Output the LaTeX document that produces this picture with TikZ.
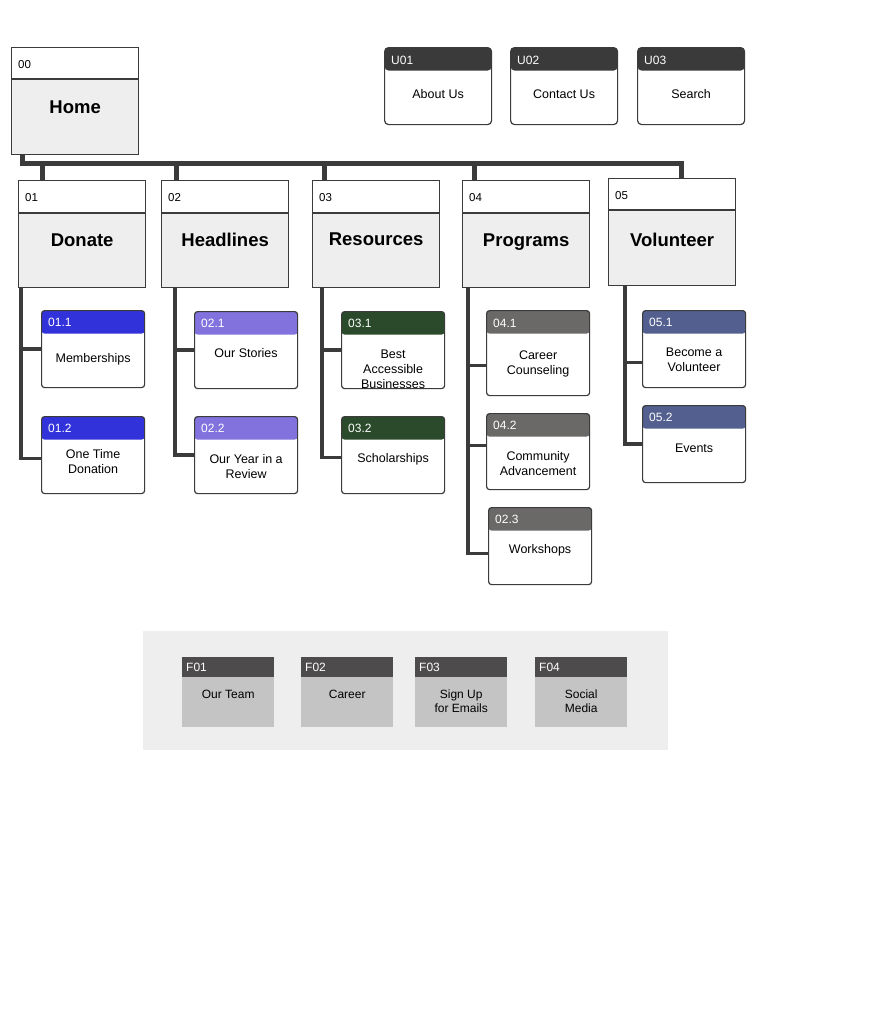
\documentclass[tikz,border=0pt]{standalone}
\usepackage{fontspec}
\setmainfont{Liberation Sans}
\definecolor{LineGray}{HTML}{3B3B3B}
\definecolor{PageGray}{HTML}{EEEEEE}
\definecolor{DonateBlue}{HTML}{3232DA}
\definecolor{NewsPurple}{HTML}{8172DE}
\definecolor{ResGreen}{HTML}{2B4A2B}
\definecolor{ProgGray}{HTML}{6B6868}
\definecolor{VolSlate}{HTML}{53608F}
\definecolor{UtilDark}{HTML}{3A3A3A}
\definecolor{FootHead}{HTML}{4D4B4B}
\definecolor{FootBody}{HTML}{C4C4C4}
\definecolor{PanelGray}{HTML}{EFEEEE}
\usetikzlibrary{positioning}

\tikzset{
  secbox/.style={draw=LineGray, line width=1.3pt, fill=PageGray, minimum width=127pt,
    minimum height=107pt, anchor=north west, inner sep=0pt,
    path picture={\fill[white] (path picture bounding box.north west) rectangle ([yshift=-#1]path picture bounding box.north east);
      \draw[LineGray, line width=2pt] ([yshift=-#1]path picture bounding box.north west) -- ([yshift=-#1]path picture bounding box.north east);}},
  secbox/.default=32pt,
  subbox/.style={draw=LineGray, line width=1.2pt, rounded corners=3pt, fill=white,
    minimum width=103pt, minimum height=77pt, anchor=north west, inner sep=0pt,
    path picture={\fill[#1] (path picture bounding box.north west) rectangle ([yshift=-23pt]path picture bounding box.north east);}},
  utilbox/.style={subbox=UtilDark, rounded corners=4pt, minimum width=107pt},
  footbox/.style={fill=FootBody, minimum width=92pt, minimum height=70pt, anchor=north west, inner sep=0pt,
    path picture={\fill[FootHead] (path picture bounding box.north west) rectangle ([yshift=-20pt]path picture bounding box.north east);}},
  panel/.style={fill=PanelGray, minimum width=525pt, minimum height=119pt, anchor=north west, inner sep=0pt},
  bus/.style={draw=LineGray, line width=5pt},
  trunk/.style={draw=LineGray, line width=3.5pt},
  secid/.style={font=\fontsize{11.5}{14}\selectfont, anchor=west, inner sep=0pt},
  sectitle/.style={font=\fontsize{18.5}{22}\selectfont\bfseries, inner sep=0pt},
  subid/.style={font=\fontsize{12}{14}\selectfont, text=white, anchor=west, inner sep=0pt},
  lbl/.style={font=\fontsize{12.5}{15}\selectfont, align=center, inner sep=0pt},
  footlbl/.style={font=\fontsize{12}{14}\selectfont, align=center, inner sep=0pt}
}

\begin{document}
\begin{tikzpicture}[x=1pt, y=-1pt]
  \useasboundingbox (0,0) rectangle (889,1031);

  % home and top level sections
  \node[secbox=31pt] (home) at (11,47) {};
  \node[secid] at ([xshift=7pt,yshift=-18pt]home.north west) {00};
  \node[sectitle] at ([yshift=-60pt]home.north) {Home};

  \node[secbox] (don) at (18,180) {};
  \node[secbox] (head) at (161,180) {};
  \node[secbox] (res) at (312,180) {};
  \node[secbox] (prog) at (462,180) {};
  \node[secbox=31pt] (vol) at (608,178) {};
  \node[secid] at ([xshift=7pt,yshift=-18pt]don.north west) {01};
  \node[secid] at ([xshift=7pt,yshift=-18pt]head.north west) {02};
  \node[secid] at ([xshift=7pt,yshift=-18pt]res.north west) {03};
  \node[secid] at ([xshift=7pt,yshift=-18pt]prog.north west) {04};
  \node[secid] at ([xshift=7pt,yshift=-18pt]vol.north west) {05};
  \node[sectitle] at ([yshift=-60pt]don.north) {Donate};
  \node[sectitle] at ([yshift=-60pt]head.north) {Headlines};
  \node[sectitle] at ([yshift=-59pt]res.north) {Resources};
  \node[sectitle] at ([yshift=-62pt]prog.north) {Programs};
  \node[sectitle] at ([yshift=-62pt]vol.north) {Volunteer};

  % main bus
  \coordinate (busend) at (681,163);
  \draw[bus] ([xshift=11pt]home.south west) |- (busend) -- (busend |- vol.north);
  \draw[bus] ([xshift=24pt]don.north west) -- ++(0,-17);
  \draw[bus] ([xshift=15pt]head.north west) -- ++(0,-17);
  \draw[bus] ([xshift=12pt]res.north west) -- ++(0,-17);
  \draw[bus] ([xshift=12pt]prog.north west) -- ++(0,-17);

  % utility pages
  \node[utilbox] (u1) at (384,47) {};
  \node[utilbox] (u2) at (510,47) {};
  \node[utilbox] (u3) at (637,47) {};
  \node[subid] at ([xshift=7pt,yshift=-13pt]u1.north west) {U01};
  \node[subid] at ([xshift=7pt,yshift=-13pt]u2.north west) {U02};
  \node[subid] at ([xshift=7pt,yshift=-13pt]u3.north west) {U03};
  \node[lbl] at ([yshift=-47pt]u1.north) {About Us};
  \node[lbl] at ([yshift=-47pt]u2.north) {Contact Us};
  \node[lbl] at ([yshift=-47pt]u3.north) {Search};

  % sub pages
  \node[subbox=DonateBlue] (d11) at (41,310) {};
  \node[subbox=DonateBlue] (d12) at (41,416) {};
  \node[subbox=NewsPurple] (h21) at (194,311) {};
  \node[subbox=NewsPurple] (h22) at (194,416) {};
  \node[subbox=ResGreen] (r31) at (341,311) {};
  \node[subbox=ResGreen] (r32) at (341,416) {};
  \node[subbox=ProgGray, minimum height=85pt] (p41) at (486,310) {};
  \node[subbox=ProgGray, minimum height=76pt] (p42) at (486,413) {};
  \node[subbox=ProgGray] (p43) at (488,507) {};
  \node[subbox=VolSlate] (v51) at (642,310) {};
  \node[subbox=VolSlate] (v52) at (642,405) {};

  \node[subid] at ([xshift=7pt,yshift=-12pt]d11.north west) {01.1};
  \node[subid] at ([xshift=7pt,yshift=-12pt]d12.north west) {01.2};
  \node[subid] at ([xshift=7pt,yshift=-12pt]h21.north west) {02.1};
  \node[subid] at ([xshift=7pt,yshift=-12pt]h22.north west) {02.2};
  \node[subid] at ([xshift=7pt,yshift=-12pt]r31.north west) {03.1};
  \node[subid] at ([xshift=7pt,yshift=-12pt]r32.north west) {03.2};
  \node[subid] at ([xshift=7pt,yshift=-13pt]p41.north west) {04.1};
  \node[subid] at ([xshift=7pt,yshift=-12pt]p42.north west) {04.2};
  \node[subid] at ([xshift=7pt,yshift=-12pt]p43.north west) {02.3};
  \node[subid] at ([xshift=7pt,yshift=-12pt]v51.north west) {05.1};
  \node[subid] at ([xshift=7pt,yshift=-12pt]v52.north west) {05.2};

  \node[lbl] at ([yshift=-49pt]d11.north) {Memberships};
  \node[lbl] at ([yshift=-45.5pt]d12.north) {One Time\\Donation};
  \node[lbl] at ([yshift=-42pt]h21.north) {Our Stories};
  \node[lbl] at ([yshift=-50.5pt]h22.north) {Our Year in a\\Review};
  \begin{scope}
    % text runs past the box bottom and is cut off there
    \clip ([xshift=1pt]r31.north west) rectangle ([xshift=-1pt,yshift=1pt]r31.south east);
    \node[lbl] at ([yshift=-58pt]r31.north) {Best\\Accessible\\Businesses};
  \end{scope}
  \node[lbl] at ([yshift=-43pt]r32.north) {Scholarships};
  \node[lbl] at ([yshift=-53.5pt]p41.north) {Career\\Counseling};
  \node[lbl] at ([yshift=-50.5pt]p42.north) {Community\\Advancement};
  \node[lbl] at ([yshift=-43pt]p43.north) {Workshops};
  \node[lbl] at ([yshift=-49.5pt]v51.north) {Become a\\Volunteer};
  \node[lbl] at ([yshift=-43pt]v52.north) {Events};

  % branches
  \draw[trunk] ([xshift=3pt]don.south west) |- (d11.west);
  \draw[trunk] ([xshift=3pt]don.south west) |- ([yshift=-3.5pt]d12.west);
  \draw[trunk] ([xshift=14pt]head.south west) |- (h21.west);
  \draw[trunk] ([xshift=14pt]head.south west) |- (h22.west);
  \draw[trunk] ([xshift=10pt]res.south west) |- (r31.west);
  \draw[trunk] ([xshift=10pt]res.south west) |- ([yshift=-2.5pt]r32.west);
  \draw[trunk] ([xshift=6pt]prog.south west) |- ([yshift=-12.5pt]p41.west);
  \draw[trunk] ([xshift=6pt]prog.south west) |- ([yshift=6pt]p42.west);
  \draw[trunk] ([xshift=6pt]prog.south west) |- ([yshift=-7.5pt]p43.west);
  \draw[trunk] ([xshift=17pt]vol.south west) |- ([yshift=-13.5pt]v51.west);
  \draw[trunk] ([xshift=17pt]vol.south west) |- (v52.west);

  % footer
  \node[panel] (foot) at (143,631) {};
  \node[footbox] (f1) at (182,657) {};
  \node[footbox] (f2) at (301,657) {};
  \node[footbox] (f3) at (415,657) {};
  \node[footbox] (f4) at (535,657) {};
  \node[subid] at ([xshift=4pt,yshift=-10pt]f1.north west) {F01};
  \node[subid] at ([xshift=4pt,yshift=-10pt]f2.north west) {F02};
  \node[subid] at ([xshift=4pt,yshift=-10pt]f3.north west) {F03};
  \node[subid] at ([xshift=4pt,yshift=-10pt]f4.north west) {F04};
  \node[footlbl] at ([yshift=-37pt]f1.north) {Our Team};
  \node[footlbl] at ([yshift=-37pt]f2.north) {Career};
  \node[footlbl] at ([yshift=-44pt]f3.north) {Sign Up\\for Emails};
  \node[footlbl] at ([yshift=-44pt]f4.north) {Social\\Media};
\end{tikzpicture}
\end{document}
